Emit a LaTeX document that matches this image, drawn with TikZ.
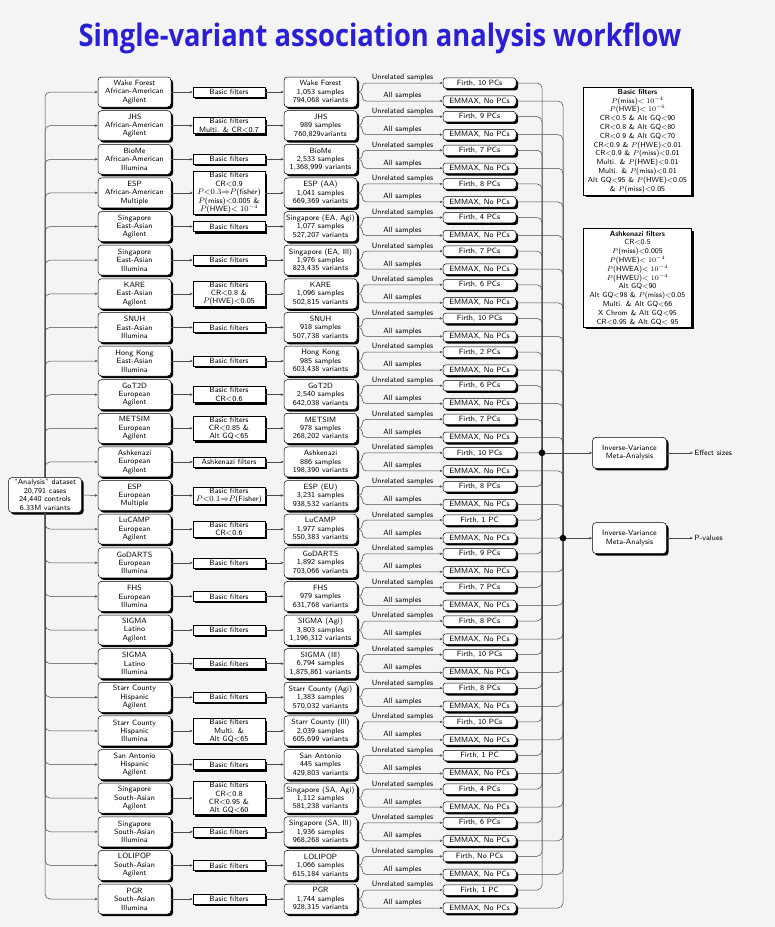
\documentclass[tikz,border=0pt]{standalone}
\usepackage{fontspec}
\newfontfamily\titlefont{Open Sans}
\usetikzlibrary{arrows.meta,shadows,calc}
\definecolor{bgc}{RGB}{244,244,244}
\definecolor{titleblue}{RGB}{42,30,215}
\definecolor{linec}{RGB}{75,75,75}
\tikzset{
 boxbase/.style={draw=black, line width=0.5pt, fill=white, align=center,
   font=\sffamily\fontsize{7.6}{8.4}\selectfont,
   drop shadow={shadow xshift=2.1pt, shadow yshift=-2.1pt, fill=black, opacity=1},
   inner sep=1.2pt},
 cbox/.style={boxbase, rounded corners=3.5pt, minimum width=73pt, minimum height=30pt},
 fbox/.style={boxbase, minimum width=72pt, minimum height=10pt, inner sep=0.8pt},
 abox/.style={boxbase, rounded corners=3pt, minimum width=73pt, minimum height=10.5pt, inner sep=0.6pt},
 mbox/.style={boxbase, rounded corners=3.5pt, minimum width=74pt, minimum height=31pt},
 lbox/.style={boxbase, minimum width=108pt, inner sep=2.2pt, font=\sffamily\fontsize{7.4}{8.8}\selectfont},
 conn/.style={draw=linec, line width=0.5pt, -{Stealth[length=3pt,width=2.6pt]}},
 busline/.style={draw=linec, line width=0.5pt, rounded corners=5pt},
 lab/.style={font=\sffamily\fontsize{7.6}{8.4}\selectfont, inner sep=1.3pt},
}
\newcommand\mkrow[5]{%
 \pgfmathsetmacro\yy{92+33.625*#1}%
 \node[cbox] (c#1) at (134.5,\yy) {#2};
 \node[fbox] (f#1) at (229,\yy) {#3};
 \node[cbox] (r#1) at (320.5,\yy) {#4};
 \node[abox] (fi#1) at (479.5,\yy-9) {Firth, #5};
 \node[abox] (em#1) at (479.5,\yy+9) {EMMAX, No PCs};
 \draw[conn] (c#1.east) -- (f#1.west);
 \draw[conn] (f#1.east) -- (r#1.west);
 \draw[conn, rounded corners=4pt] (r#1.east) -- ++(5,0) |- (fi#1.west) node[lab, pos=0.75, above] {Unrelated samples};
 \draw[conn, rounded corners=4pt] (r#1.east) -- ++(5,0) |- (em#1.west) node[lab, pos=0.75, above] {All samples};
 \draw[busline] (fi#1.east) -| (dotE);
 \draw[busline] (em#1.east) -| (dotP);
}
\begin{document}
\begin{tikzpicture}[x=1pt,y=-1pt]
\fill[bgc] (0,0) rectangle (775,927);
\useasboundingbox (0,0) rectangle (775,927);
\node[anchor=base, inner sep=0] (title) at (380,46) {\scalebox{0.88}[1]{\titlefont\bfseries\fontsize{31}{36}\selectfont\color{titleblue}Single-variant association analysis workflow}};

\coordinate (dotE) at (542,{92+33.625*11-9});
\coordinate (dotP) at (563,{92+33.625*13+9});

\node[cbox, minimum height=35pt] (an) at (45,495) {``Analysis'' dataset\\20,791 cases\\24,440 controls\\6.33M variants};

\mkrow{0}{Wake Forest\\African-American\\Agilent}{Basic filters}{Wake Forest\\1,053 samples\\794,068 variants}{10 PCs}
\mkrow{1}{JHS\\African-American\\Agilent}{Basic filters\\Multi. \& CR$<$0.7}{JHS\\989 samples\\760,829variants}{9 PCs}
\mkrow{2}{BioMe\\African-American\\Illumina}{Basic filters}{BioMe\\2,533 samples\\1,368,999 variants}{7 PCs}
\mkrow{3}{ESP\\African-American\\Multiple}{Basic filters\\CR$<$0.9\\$P{<}0.3{\Rightarrow}P$(fisher)\\$P$(miss)$<$0.005 \&\\$P$(HWE)$<10^{-4}$}{ESP (AA)\\1,041 samples\\669,369 variants}{8 PCs}
\mkrow{4}{Singapore\\East-Asian\\Agilent}{Basic filters}{Singapore (EA, Agi)\\1,077 samples\\527,207 variants}{4 PCs}
\mkrow{5}{Singapore\\East-Asian\\Illumina}{Basic filters}{Singapore (EA, Ill)\\1,976 samples\\823,435 variants}{7 PCs}
\mkrow{6}{KARE\\East-Asian\\Agilent}{Basic filters\\CR$<$0.8 \&\\$P$(HWE)$<$0.05}{KARE\\1,096 samples\\502,815 variants}{6 PCs}
\mkrow{7}{SNUH\\East-Asian\\Illumina}{Basic filters}{SNUH\\918 samples\\507,738 variants}{10 PCs}
\mkrow{8}{Hong Kong\\East-Asian\\Illumina}{Basic filters}{Hong Kong\\985 samples\\603,438 variants}{2 PCs}
\mkrow{9}{GoT2D\\European\\Agilent}{Basic filters\\CR$<$0.6}{GoT2D\\2,540 samples\\642,038 variants}{6 PCs}
\mkrow{10}{METSIM\\European\\Agilent}{Basic filters\\CR$<$0.85 \&\\Alt GQ$<$65}{METSIM\\978 samples\\268,202 variants}{7 PCs}
\mkrow{11}{Ashkenazi\\European\\Agilent}{Ashkenazi filters}{Ashkenazi\\886 samples\\198,390 variants}{10 PCs}
\mkrow{12}{ESP\\European\\Multiple}{Basic filters\\$P{<}0.1{\Rightarrow}P$(Fisher)}{ESP (EU)\\3,231 samples\\938,532 variants}{8 PCs}
\mkrow{13}{LuCAMP\\European\\Agilent}{Basic filters\\CR$<$0.6}{LuCAMP\\1,977 samples\\550,383 variants}{1 PC}
\mkrow{14}{GoDARTS\\European\\Illumina}{Basic filters}{GoDARTS\\1,892 samples\\703,066 variants}{9 PCs}
\mkrow{15}{FHS\\European\\Illumina}{Basic filters}{FHS\\979 samples\\631,768 variants}{7 PCs}
\mkrow{16}{SIGMA\\Latino\\Agilent}{Basic filters}{SIGMA (Agi)\\3,803 samples\\1,196,312 variants}{8 PCs}
\mkrow{17}{SIGMA\\Latino\\Illumina}{Basic filters}{SIGMA (Ill)\\6,794 samples\\1,875,861 variants}{10 PCs}
\mkrow{18}{Starr County\\Hispanic\\Agilent}{Basic filters}{Starr County (Agi)\\1,383 samples\\570,032 variants}{8 PCs}
\mkrow{19}{Starr County\\Hispanic\\Illumina}{Basic filters\\Multi. \&\\Alt GQ$<$65}{Starr County (Ill)\\2,039 samples\\605,699 variants}{10 PCs}
\mkrow{20}{San Antonio\\Hispanic\\Agilent}{Basic filters}{San Antonio\\445 samples\\429,803 variants}{1 PC}
\mkrow{21}{Singapore\\South-Asian\\Agilent}{Basic filters\\CR$<$0.8\\CR$<$0.95 \&\\Alt GQ$<$60}{Singapore (SA, Agi)\\1,112 samples\\581,238 variants}{4 PCs}
\mkrow{22}{Singapore\\South-Asian\\Illumina}{Basic filters}{Singapore (SA, Ill)\\1,936 samples\\968,268 variants}{6 PCs}
\mkrow{23}{LOLIPOP\\South-Asian\\Agilent}{Basic filters}{LOLIPOP\\1,066 samples\\615,184 variants}{No PCs}
\mkrow{24}{PGR\\South-Asian\\Illumina}{Basic filters}{PGR\\1,744 samples\\928,315 variants}{1 PC}

\foreach \i in {0,...,11} \draw[conn, rounded corners=5pt] (an.north) |- (c\i.west);
\foreach \i in {13,...,24} \draw[conn, rounded corners=5pt] (an.south) |- (c\i.west);
\draw[conn] (an.east) -- (c12.west);

\node[mbox] (mE) at (629.5,{92+33.625*11-9}) {Inverse-Variance\\Meta-Analysis};
\node[mbox] (mP) at (629.5,{92+33.625*13+9}) {Inverse-Variance\\Meta-Analysis};
\draw[conn] (dotE) -- (mE.west);
\draw[conn] (dotP) -- (mP.west);
\fill (dotE) circle (3.3pt);
\fill (dotP) circle (3.3pt);
\node[lab, anchor=west] (oE) at (693,{92+33.625*11-9}) {Effect sizes};
\node[lab, anchor=west] (oP) at (693,{92+33.625*13+9}) {P-values};
\draw[conn] (mE.east) -- (oE.west);
\draw[conn] (mP.east) -- (oP.west);

\node[lbox] (lb) at (637.5,141) {\textbf{Basic filters}\\
$P$(miss)$<10^{-4}$\\
$P$(HWE)$<10^{-6}$\\
CR$<$0.5 \& Alt GQ$<$90\\
CR$<$0.8 \& Alt GQ$<$80\\
CR$<$0.9 \& Alt GQ$<$70\\
CR$<$0.9 \& $P$(HWE)$<$0.01\\
CR$<$0.9 \& $P$(miss)$<$0.01\\
Multi. \& $P$(HWE)$<$0.01\\
Multi. \& $P$(miss)$<$0.01\\
Alt GQ$<$95 \& $P$(HWE)$<$0.05\\
\& $P$(miss)$<$0.05};
\node[lbox] (la) at (637.5,278) {\textbf{Ashkenazi filters}\\
CR$<$0.5\\
$P$(miss)$<$0.005\\
$P$(HWE)$<10^{-4}$\\
$P$(HWEA)$<10^{-4}$\\
$P$(HWEU)$<10^{-4}$\\
Alt GQ$<$90\\
Alt GQ$<$98 \& $P$(miss)$<$0.05\\
Multi. \& Alt GQ$<$66\\
X Chrom \& Alt GQ$<$95\\
CR$<$0.95 \& Alt GQ$<$ 95};
\end{tikzpicture}
\end{document}
